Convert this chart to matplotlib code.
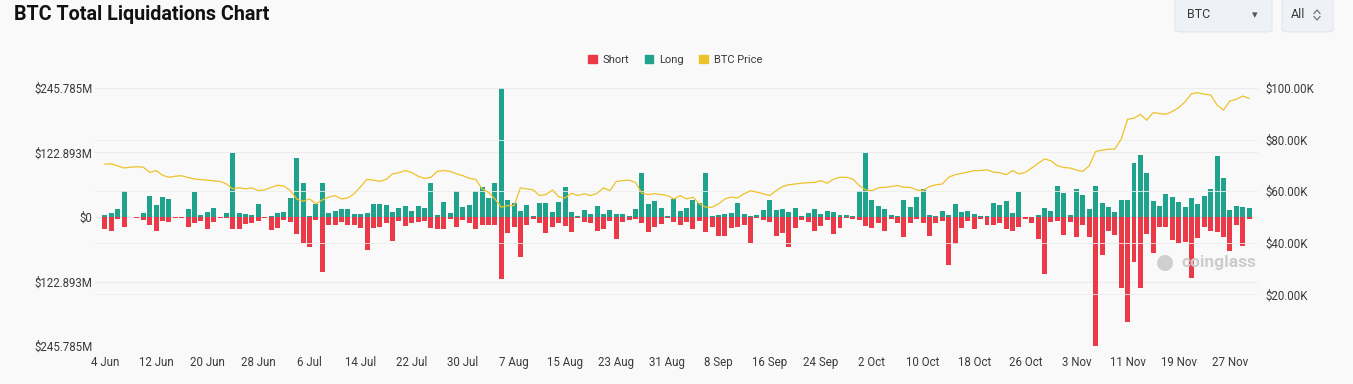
import matplotlib
matplotlib.use("Agg")
import matplotlib.pyplot as plt
from matplotlib.patches import Patch, FancyBboxPatch
from matplotlib.lines import Line2D
import pandas as pd

start_date = "2024-06-04"

long_m = [4.4, 7.0, 14.6, 50.2, 0.6, 0.6, 7.0, 40.0, 22.2, 37.5, 34.9, 0.6, 0.6, 15.9, 47.0, 4.4, 8.9, 16.5,
          0.6, 7.6, 121.3, 8.3, 6.4, 3.8, 25.4, 0.6, 1.3, 8.3, 9.5, 35.6, 113.0, 65.4, 2.5, 24.8, 64.1, 8.3,
          12.1, 15.9, 15.9, 5.1, 6.4, 7.0, 24.8, 24.8, 22.2, 10.2, 17.1, 21.6, 10.8, 20.3, 17.1, 64.8, 3.8, 28.6,
          7.0, 50.2, 19.1, 22.2, 49.5, 57.8, 35.6, 64.1, 245.785, 32.4, 26.0, 11.4, 22.2, 1.9, 26.0, 26.0, 8.9, 29.2,
          57.8, 9.5, 1.3, 12.7, 6.4, 21.0, 6.4, 13.3, 6.4, 5.1, 1.9, 14.6, 84.5, 25.4, 30.5, 17.8, 1.3, 34.3,
          12.1, 16.5, 32.4, 26.0, 83.2, 1.9, 3.8, 6.4, 8.3, 27.3, 5.7, 1.9, 4.4, 13.3, 32.4, 13.3, 14.6, 8.9,
          17.1, 1.9, 8.3, 15.9, 6.4, 10.8, 10.2, 3.8, 4.4, 1.9, 50.2, 122.6, 32.4, 21.0, 15.9, 3.8, 1.9, 32.4,
          19.1, 38.7, 52.7, 3.8, 1.9, 11.4, 3.8, 25.4, 8.9, 11.4, 6.4, 1.9, 1.9, 26.0, 22.2, 29.8, 7.0, 47.6,
          0.6, 0.6, 4.4, 16.5, 12.1, 59.1, 46.4, 3.2, 54.0, 41.3, 15.9, 59.1, 27.3, 18.4, 10.2, 32.4, 32.4, 102.2,
          118.1, 83.8, 29.8, 21.0, 43.2, 38.7, 27.9, 19.1, 36.2, 24.8, 39.4, 52.7, 116.2, 74.9, 13.3, 21.0, 19.7, 17.1]

short_m = [22.2, 26.0, 4.4, 18.4, 0.6, 1.9, 5.7, 15.2, 26.0, 7.0, 8.9, 1.3, 2.5, 19.1, 12.1, 7.0, 22.2, 8.9,
           1.3, 1.3, 22.2, 22.2, 14.0, 12.1, 8.3, 1.9, 24.8, 21.6, 5.7, 8.9, 32.4, 50.2, 56.5, 5.7, 104.1, 15.2,
           15.9, 8.9, 15.2, 15.9, 21.6, 62.9, 21.6, 18.4, 10.8, 45.1, 8.3, 17.1, 12.1, 9.5, 8.3, 20.3, 22.9, 22.9,
           3.2, 18.4, 5.7, 10.8, 23.5, 14.6, 14.6, 14.6, 117.5, 31.1, 19.7, 75.6, 15.9, 4.4, 12.1, 31.1, 18.4, 10.8,
           17.1, 27.9, 1.9, 8.9, 10.8, 26.0, 22.9, 7.0, 42.5, 8.9, 6.4, 4.4, 10.8, 27.9, 18.4, 13.3, 1.9, 9.5,
           15.2, 9.5, 23.5, 7.0, 29.2, 18.4, 36.2, 36.2, 21.6, 18.4, 15.2, 48.9, 1.9, 5.7, 8.9, 36.2, 31.1, 57.8,
           20.3, 6.4, 10.2, 26.0, 17.1, 5.7, 32.4, 20.3, 1.9, 4.4, 5.7, 17.1, 20.3, 12.1, 26.0, 3.2, 12.1, 37.5,
           12.1, 4.4, 12.1, 36.2, 10.8, 7.0, 91.4, 51.4, 21.6, 7.0, 23.5, 4.4, 15.2, 15.2, 10.8, 23.5, 26.0, 18.4,
           3.2, 12.1, 41.3, 108.6, 10.2, 7.0, 34.9, 8.9, 38.7, 15.2, 37.5, 245.785, 72.4, 26.0, 34.3, 135.3, 200.0, 85.7,
           135.9, 32.4, 69.2, 18.4, 18.4, 43.8, 48.9, 47.0, 116.8, 40.0, 18.4, 26.0, 29.2, 38.7, 64.1, 15.9, 54.6, 4.4]

price_k = [70.5, 70.6, 69.8, 69.0, 69.3, 69.5, 69.3, 67.3, 68.0, 66.2, 65.4, 65.8, 66.0, 65.3, 64.7, 64.5, 64.3, 64.0,
           63.8, 62.8, 60.9, 61.3, 60.9, 61.3, 60.2, 60.5, 61.5, 62.3, 62.0, 60.2, 57.0, 56.1, 57.0, 55.1, 56.6, 57.7,
           58.3, 57.0, 57.4, 59.0, 61.8, 64.6, 64.3, 63.8, 64.6, 66.7, 67.2, 68.0, 67.2, 65.8, 65.0, 65.4, 67.7, 68.0,
           67.7, 66.7, 66.0, 65.0, 64.6, 60.9, 59.6, 57.0, 53.8, 54.4, 54.4, 61.3, 60.9, 60.5, 58.3, 58.7, 60.5, 57.8,
           57.4, 59.2, 58.3, 59.0, 58.3, 59.2, 61.3, 60.2, 63.8, 64.1, 64.3, 63.4, 59.2, 58.7, 59.0, 58.7, 58.3, 57.0,
           58.3, 57.0, 57.7, 55.1, 53.8, 53.8, 55.1, 57.0, 57.7, 57.4, 59.0, 60.2, 59.6, 59.0, 58.3, 60.2, 61.8, 62.5,
           62.8, 63.1, 63.3, 63.4, 64.1, 63.1, 64.7, 65.4, 65.4, 64.7, 62.2, 60.5, 60.2, 61.3, 61.5, 61.8, 62.2, 61.5,
           61.5, 60.5, 60.2, 61.8, 62.5, 62.8, 65.4, 66.4, 66.9, 67.4, 68.0, 68.0, 68.3, 67.4, 67.2, 66.4, 68.0, 66.7,
           67.3, 69.0, 70.8, 72.5, 71.8, 69.9, 69.2, 69.0, 68.2, 67.7, 69.9, 75.4, 75.9, 76.3, 76.3, 80.2, 87.9, 88.3,
           89.8, 87.5, 90.5, 90.1, 89.8, 90.9, 92.4, 94.7, 97.8, 98.2, 97.6, 97.3, 93.4, 91.4, 95.0, 95.6, 96.9, 96.0]

left_ticks = [-245.785, -122.893, 0, 122.893, 245.785]
left_labels = ["$245.785M", "$122.893M", "$0", "$122.893M", "$245.785M"]
right_ticks = [20, 40, 60, 80, 100]
right_labels = ["$20.00K", "$40.00K", "$60.00K", "$80.00K", "$100.00K"]

assert len(long_m) == len(short_m) == len(price_k)

dates = pd.date_range(start_date, periods=len(long_m), freq="D")
tick_dates = dates[::8]
tick_labels = [f"{d.day} {d.strftime('%b')}" for d in tick_dates]

RED = "#ea3a48"
TEAL = "#1fa38c"
GOLD = "#eec22a"
TXT = "#3a3a3a"
BG = "#f9f9fa"
GRID = "#ececee"

plt.rcParams["font.family"] = ["Roboto", "DejaVu Sans"]

W, H = 1353, 384
fig = plt.figure(figsize=(W / 100, H / 100), dpi=100, facecolor=BG)

ax_l, ax_r, ax_t, ax_b = 95, 1258, 88, 346
ax = fig.add_axes([ax_l / W, 1 - ax_b / H, (ax_r - ax_l) / W, (ax_b - ax_t) / H])
ax.set_facecolor(BG)

ax.bar(dates, long_m, width=0.78, color=TEAL, zorder=3)
ax.bar(dates, [-v for v in short_m], width=0.78, color=RED, zorder=3)

ax.set_ylim(-245.785, 245.785)
ax.set_xlim(dates[0] - pd.Timedelta(days=1.56), dates[0] + pd.Timedelta(days=180.4))
ax.set_yticks(left_ticks)
ax.set_yticklabels(left_labels)
ax.set_xticks(tick_dates)
ax.set_xticklabels(tick_labels)
for y in left_ticks:
    ax.axhline(y, color=GRID, lw=0.8, zorder=1)
for s in ax.spines.values():
    s.set_visible(False)
ax.tick_params(axis="both", length=0, labelsize=8.3, colors=TXT)
ax.tick_params(axis="y", pad=2)
ax.tick_params(axis="x", pad=7)

ax2 = ax.twinx()
ax2.plot(dates, price_k, color=GOLD, lw=0.9, zorder=4)
ax2.set_ylim(0, 100)
ax2.set_yticks(right_ticks)
ax2.set_yticklabels(right_labels)
for y in right_ticks:
    ax2.axhline(y, color=GRID, lw=0.6, zorder=0)
for s in ax2.spines.values():
    s.set_visible(False)
ax2.tick_params(axis="y", length=0, labelsize=8.3, colors=TXT, pad=5)

# title
fig.text(14 / W, 1 - 15 / H, "BTC Total Liquidations Chart", fontsize=14.2, fontweight="bold",
         color="#111111", va="center", ha="left")

# legend
handles = [Patch(color=RED, label="Short"), Patch(color=TEAL, label="Long"), Patch(color=GOLD, label="BTC Price")]
fig.legend(handles=handles, loc="center", bbox_to_anchor=(675 / W, 1 - 60 / H), ncol=3, frameon=False,
           fontsize=8, handlelength=0.8, handleheight=0.8, handletextpad=0.5, columnspacing=1.4,
           labelcolor=TXT)

# dropdown boxes
for (x0, x1) in [(1175, 1272), (1282, 1333)]:
    box = FancyBboxPatch((x0 / W, 1 - 32 / H), (x1 - x0) / W, 36 / H,
                         boxstyle="round,pad=0,rounding_size=0.006", transform=fig.transFigure,
                         facecolor="#eef1f5", edgecolor="#e2e6ec", lw=0.8)
    fig.add_artist(box)
fig.text(1187 / W, 1 - 15 / H, "BTC", fontsize=9, color=TXT, va="center", ha="left")
fig.text(1255 / W, 1 - 15 / H, "▾", fontsize=8, color="#555555", va="center", ha="center",
         family=["DejaVu Sans"])
fig.text(1291 / W, 1 - 15 / H, "All", fontsize=9, color=TXT, va="center", ha="left")
for dy in (-1, 1):
    yb = 1 - (15 + dy * 1.5) / H
    yt = 1 - (15 + dy * 5) / H
    fig.add_artist(Line2D([1314 / W, 1317 / W, 1320 / W], [yb, yt, yb], transform=fig.transFigure,
                          color="#666666", lw=0.8))

# watermark
fig.text(1165 / W, 1 - 262 / H, "●", fontsize=15, color="#cfcfcf", va="center", ha="center",
         family=["DejaVu Sans"])
fig.text(1181 / W, 1 - 262 / H, "coinglass", fontsize=12.5, color="#cccccc", va="center", ha="left",
         fontweight="bold")

fig.savefig("out.png", dpi=100, facecolor=BG)
